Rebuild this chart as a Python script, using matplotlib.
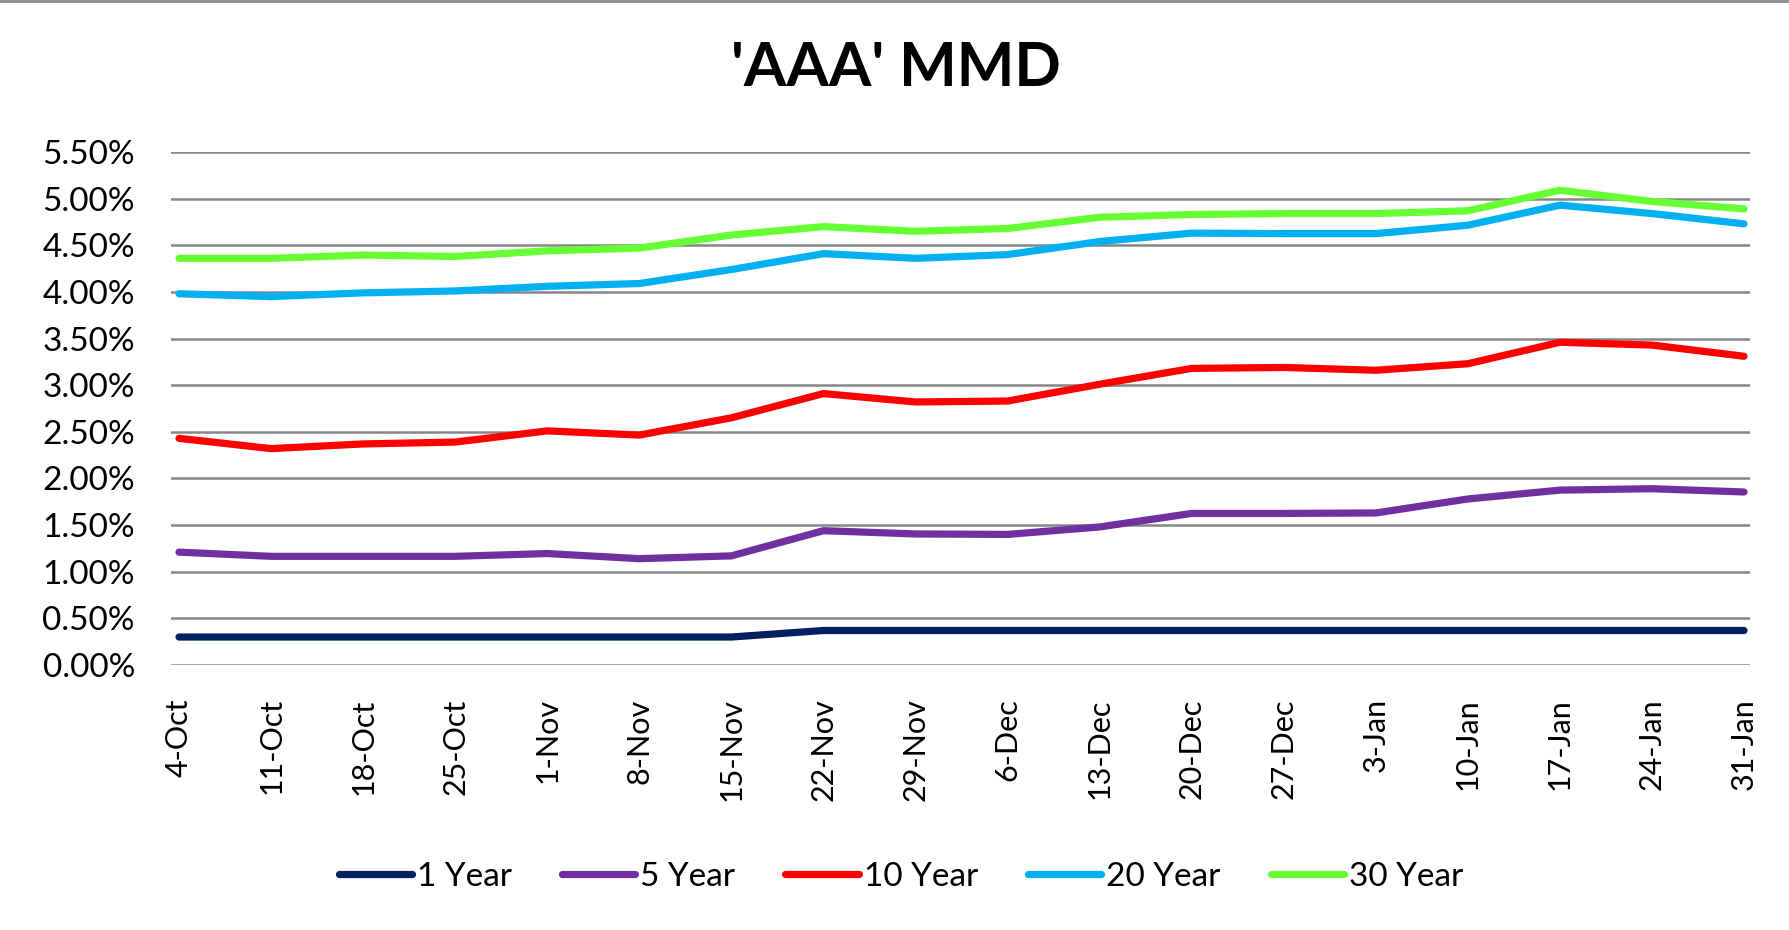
import matplotlib
matplotlib.use("Agg")
import matplotlib.pyplot as plt
from matplotlib.lines import Line2D

dates = ["4-Oct", "11-Oct", "18-Oct", "25-Oct", "1-Nov", "8-Nov", "15-Nov", "22-Nov",
         "29-Nov", "6-Dec", "13-Dec", "20-Dec", "27-Dec", "3-Jan", "10-Jan", "17-Jan",
         "24-Jan", "31-Jan"]
y1 = [0.30, 0.30, 0.30, 0.30, 0.30, 0.30, 0.30, 0.37, 0.37, 0.37, 0.37, 0.37, 0.37,
      0.37, 0.37, 0.37, 0.37, 0.37]
y5 = [1.21, 1.165, 1.165, 1.165, 1.195, 1.14, 1.17, 1.44, 1.405, 1.40, 1.48, 1.625,
      1.625, 1.63, 1.78, 1.875, 1.89, 1.855]
y10 = [2.43, 2.32, 2.37, 2.39, 2.51, 2.465, 2.65, 2.91, 2.82, 2.83, 3.01, 3.18, 3.19,
       3.16, 3.23, 3.46, 3.43, 3.31]
y20 = [3.98, 3.95, 3.99, 4.01, 4.06, 4.09, 4.24, 4.41, 4.36, 4.40, 4.54, 4.63, 4.625,
       4.625, 4.715, 4.93, 4.84, 4.73]
y30 = [4.36, 4.36, 4.395, 4.38, 4.44, 4.47, 4.61, 4.70, 4.65, 4.68, 4.80, 4.83, 4.84,
       4.84, 4.87, 5.09, 4.97, 4.89]
series_names = ["1 Year", "5 Year", "10 Year", "20 Year", "30 Year"]
series_colors = ["#002060", "#7030A0", "#FF0000", "#00B0F0", "#66FF33"]
yticks = [0.0, 0.5, 1.0, 1.5, 2.0, 2.5, 3.0, 3.5, 4.0, 4.5, 5.0, 5.5]

plt.rcParams['font.family'] = ['Lato', 'DejaVu Sans']

W, H = 1790, 930
fig = plt.figure(figsize=(W / 100, H / 100), dpi=100)
ax = fig.add_axes([171 / W, 1 - 665 / H, (1750 - 171) / W, (665 - 152) / H])

x = list(range(len(dates)))
for vals, name, col in zip([y1, y5, y10, y20, y30], series_names, series_colors):
    ax.plot(x, vals, color=col, lw=5.2, solid_capstyle='round', solid_joinstyle='round',
            label=name, zorder=3)

ax.set_ylim(0, 5.5)
ax.set_xlim(-0.087, len(dates) - 1 + 0.065)
ax.set_yticks(yticks)
ax.set_yticklabels([f"{v:.2f}%" for v in yticks], fontsize=24)
ax.set_xticks(x)
ax.set_xticklabels(dates, rotation=90, fontsize=22, va='top')
ax.tick_params(axis='y', length=0, pad=26)
ax.tick_params(axis='x', length=0, pad=24)
ax.grid(axis='y', color='#868686', lw=1.8, zorder=1)
for s in ax.spines.values():
    s.set_visible(False)

fig.text(896 / W, 1 - 68 / H, "'AAA' MMD", ha='center', va='center', fontsize=44,
         fontweight='bold')

handles = [Line2D([], [], color=c, lw=5.2, solid_capstyle='round') for c in series_colors]
fig.legend(handles, series_names, loc='center', bbox_to_anchor=(901 / W, 1 - 877 / H),
           ncol=5, frameon=False, fontsize=24, handlelength=2.2, handletextpad=0.15,
           columnspacing=1.5)

fig.add_artist(Line2D([0, 1], [1 - 1 / H, 1 - 1 / H], transform=fig.transFigure,
                      color='#8c8c8c', lw=2))

fig.savefig("out.png", dpi=100, facecolor='white')
